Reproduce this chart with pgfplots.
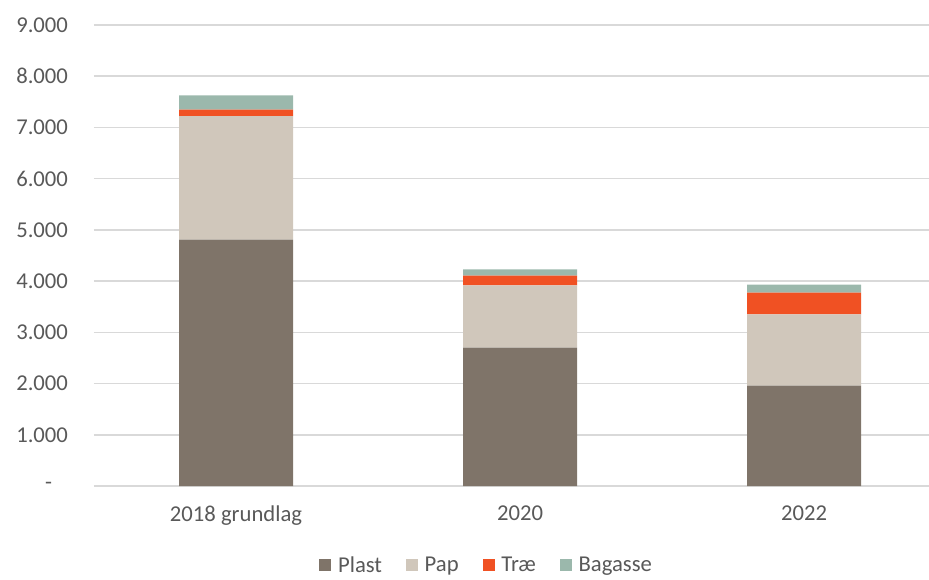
\documentclass[border=0pt]{standalone}
\usepackage{fontspec}
\setmainfont{Carlito}
\usepackage{pgfplots}
\pgfplotsset{compat=1.18}
\definecolor{plast}{HTML}{7F7469}
\definecolor{pap}{HTML}{D0C7BB}
\definecolor{trae}{HTML}{F05123}
\definecolor{bagasse}{HTML}{9BB8AC}
\definecolor{txt}{HTML}{595959}
\definecolor{gridc}{HTML}{D9D9D9}

\begin{document}
\begin{tikzpicture}
\begin{axis}[
    at={(0,0)}, anchor=south west,
    scale only axis,
    width=626.25pt, height=345.75pt,
    ybar stacked, bar width=85.5pt,
    xmin=-0.5, xmax=2.44,
    ymin=0, ymax=9000,
    xtick={0,1,2},
    xticklabels={2018 grundlag, 2020, 2022},
    ytick={0,1000,...,9000},
    yticklabels={-\hspace*{12pt},1.000,2.000,3.000,4.000,5.000,6.000,7.000,8.000,9.000},
    major tick length=0pt,
    axis line style={draw=none},
    ymajorgrids, grid style={gridc, line width=1.2pt},
    axis x line*=bottom,
    x axis line style={draw=gridc, line width=1.2pt},
    ticklabel style={font=\fontsize{17}{20}\selectfont, text=txt},
    yticklabel style={anchor=east, xshift=-16pt},
    xticklabel style={anchor=north, yshift=-11pt},
    legend style={at={(0.4707,-0.172)}, anchor=center, draw=none,
        legend columns=-1, font=\fontsize{17}{20}\selectfont, text=txt,
        /tikz/every odd column/.append style={column sep=3pt},
        /tikz/every even column/.append style={column sep=16pt}},
    legend image code/.code={\fill[#1] (0pt,-4.5pt) rectangle (9pt,4.5pt);},
]
\addplot[fill=plast, draw=none] coordinates {(0,4810) (1,2700) (2,1960)};
\addplot[fill=pap, draw=none] coordinates {(0,2410) (1,1215) (2,1390)};
\addplot[fill=trae, draw=none] coordinates {(0,130) (1,190) (2,425)};
\addplot[fill=bagasse, draw=none] coordinates {(0,275) (1,125) (2,155)};
\legend{Plast, Pap, Træ, Bagasse}
\end{axis}
\pgfresetboundingbox
\path[use as bounding box] (-70.5pt,-69.75pt) rectangle (626.25pt,364.5pt);
\end{tikzpicture}
\end{document}
